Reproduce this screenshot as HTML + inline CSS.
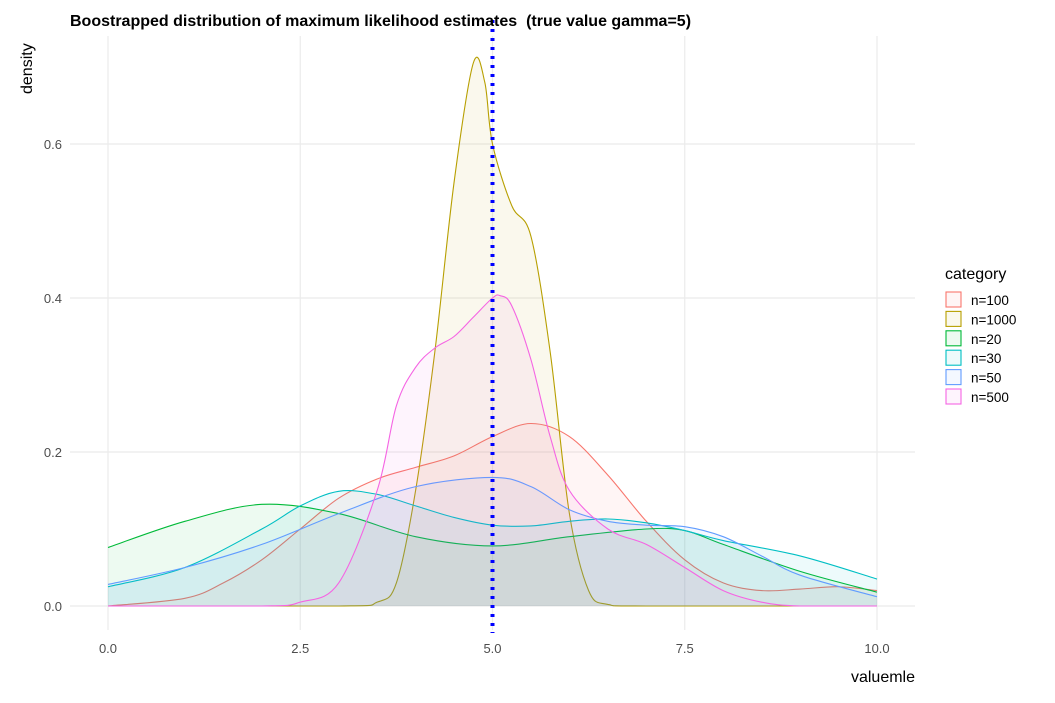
<!DOCTYPE html>
<html><head><meta charset="utf-8"><style>
body{margin:0;background:#fff;font-family:"Liberation Sans",sans-serif}
svg text{font-family:"Liberation Sans",sans-serif}
</style></head><body>
<svg id="chart" width="1055" height="698">
<g id="grid"></g>
<g id="series"></g>
<g id="axes"></g>
<text x="70" y="26" font-size="16" font-weight="bold" fill="#000" style="white-space:pre" xml:space="preserve">Boostrapped distribution of maximum likelihood estimates  (true value gamma=5)</text>
<text transform="translate(32,94) rotate(-90)" font-size="16" fill="#000">density</text>
<text x="915" y="682" font-size="16" fill="#000" text-anchor="end">valuemle</text>
<g id="legend"><text x="945" y="279" font-size="16">category</text></g>
</svg>
<script>
const xTicks=[0,2.5,5,7.5,10];
const xTickLabels=["0.0","2.5","5.0","7.5","10.0"];
const yTicks=[0,0.2,0.4,0.6];
const yTickLabels=["0.0","0.2","0.4","0.6"];
const categories=["n=100","n=1000","n=20","n=30","n=50","n=500"];
const colors=["#F8766D","#B79F00","#00BA38","#00BFC4","#619CFF","#F564E3"];
const x100=[0,1,1.5,2,2.5,3,3.5,4,4.5,5,5.5,6,6.5,7,7.5,8,8.5,9,9.5,10];
const y100=[0,0.01,0.03,0.06,0.1,0.14,0.165,0.18,0.195,0.22,0.237,0.22,0.17,0.11,0.06,0.03,0.02,0.022,0.025,0.02];
const x1000=[0,3,3.5,3.75,4,4.25,4.5,4.75,4.9,5,5.25,5.5,5.75,6,6.25,6.5,7,10];
const y1000=[0,0,0.005,0.03,0.15,0.33,0.55,0.705,0.68,0.6,0.52,0.48,0.33,0.12,0.02,0.002,0,0];
const x20=[0,1,2,3,4,5,6,7,7.5,8,9,10];
const y20=[0.076,0.11,0.132,0.12,0.09,0.078,0.09,0.1,0.098,0.08,0.045,0.018];
const x30=[0,1,2,2.5,3,3.5,4,4.5,5,5.5,6,6.5,7,7.5,8,9,10];
const y30=[0.025,0.05,0.1,0.13,0.149,0.145,0.13,0.115,0.105,0.104,0.11,0.113,0.108,0.098,0.085,0.065,0.035];
const x50=[0,1,2,3,4,5,5.5,6,6.5,7,7.5,8,8.5,9,10];
const y50=[0.028,0.05,0.08,0.12,0.155,0.167,0.155,0.125,0.11,0.105,0.103,0.09,0.065,0.04,0.012];
const x500=[0,2,2.5,3,3.5,3.75,4,4.25,4.5,4.75,5,5.1,5.25,5.5,5.75,6,6.5,7,7.5,8,8.5,9,10];
const y500=[0,0,0.005,0.03,0.15,0.26,0.31,0.335,0.35,0.375,0.4,0.403,0.39,0.32,0.22,0.15,0.1,0.08,0.05,0.02,0.005,0,0];
const xsAll=[x100,x1000,x20,x30,x50,x500];
const ysAll=[y100,y1000,y20,y30,y50,y500];
const trueValue=5;
const NS="http://www.w3.org/2000/svg";
const X=v=>108+v*76.9, Y=v=>606-v*770;
function mk(t,a,p){const e=document.createElementNS(NS,t);for(const k in a)e.setAttribute(k,a[k]);p.appendChild(e);return e;}
const grid=document.getElementById('grid'),axes=document.getElementById('axes'),ser=document.getElementById('series'),leg=document.getElementById('legend');
xTicks.forEach((v,i)=>{const l=mk('line',{x1:X(v),x2:X(v),y1:36,y2:630,stroke:'#ebebeb','stroke-width':1.2},grid);
const t=mk('text',{x:X(v),y:653,'font-size':13,fill:'#4d4d4d','text-anchor':'middle'},axes);t.textContent=xTickLabels[i];});
yTicks.forEach((v,i)=>{const l=mk('line',{x1:70,x2:915,y1:Y(v),y2:Y(v),stroke:'#ebebeb','stroke-width':1.2},grid);
const t=mk('text',{x:62,y:Y(v)+5,'font-size':13,fill:'#4d4d4d','text-anchor':'end'},axes);t.textContent=yTickLabels[i];});
function smooth(xs,ys){const p=xs.map((x,i)=>[X(x),Y(ys[i])]);let d=`M${p[0][0]},${p[0][1]}`;
for(let i=0;i<p.length-1;i++){const p0=p[i-1]||p[i],p1=p[i],p2=p[i+1],p3=p[i+2]||p2;
let c1y=p1[1]+(p2[1]-p0[1])/6,c2y=p2[1]-(p3[1]-p1[1])/6;c1y=Math.min(c1y,606);c2y=Math.min(c2y,606);
d+=` C${p1[0]+(p2[0]-p0[0])/6},${c1y} ${p2[0]-(p3[0]-p1[0])/6},${c2y} ${p2[0]},${p2[1]}`;}return d;}
categories.forEach((c,i)=>{const d=smooth(xsAll[i],ysAll[i]);
const f=mk('path',{d:d+` L${X(10)},${Y(0)} L${X(0)},${Y(0)} Z`,fill:colors[i],'fill-opacity':0.07,stroke:'none'},ser);
const l=mk('path',{d:d,fill:'none',stroke:colors[i],'stroke-width':1.1},ser);
const y=292+i*19.4;const r=mk('rect',{x:946,y:y,width:15,height:15,fill:colors[i],'fill-opacity':0.07,stroke:colors[i],'stroke-width':1.1},leg);
const t=mk('text',{x:971,y:y+13,'font-size':13.5,fill:'#000'},leg);t.textContent=c;});
const vl=mk('line',{x1:X(trueValue),x2:X(trueValue),y1:20,y2:633,stroke:'#0000ff','stroke-width':4,'stroke-dasharray':'3 6'},ser);


</script>
</body></html>
